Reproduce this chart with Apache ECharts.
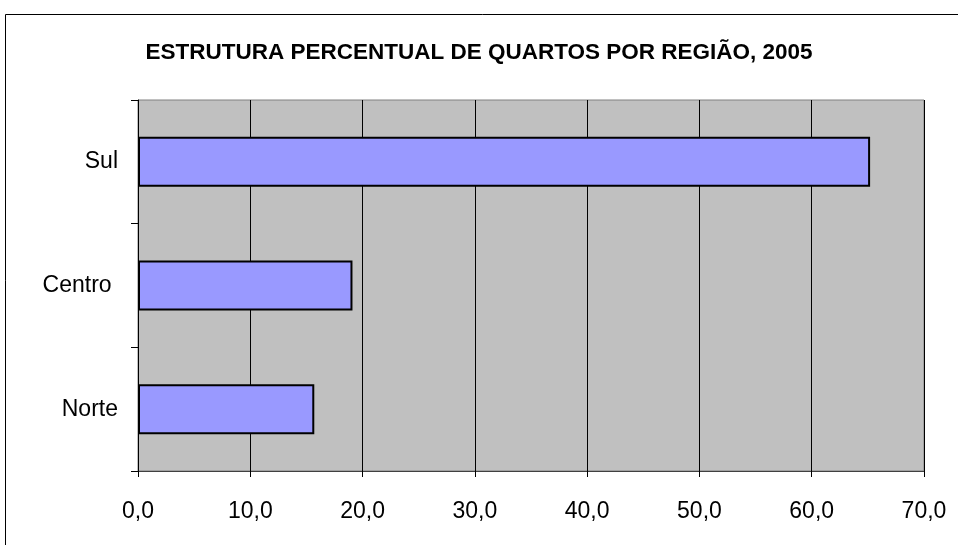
<!DOCTYPE html>
<html>
<head>
<meta charset="utf-8">
<script src="https://cdn.jsdelivr.net/npm/echarts@6/dist/echarts.min.js"></script>
<style>
  html, body { margin: 0; padding: 0; background: #fff; }
  #chart { width: 958px; height: 545px; }
</style>
</head>
<body>
<div id="chart"></div>
<script>
// regions, bottom to top as drawn
const regions = ['Norte', 'Centro ', 'Sul']
const shares = [15.7, 19.1, 65.2]
const xTicks = { min: 0, max: 70, step: 10 }

const chart = echarts.init(document.getElementById('chart'))

const option = {
  backgroundColor: '#fff',
  animation: false,
  textStyle: { fontFamily: 'Liberation Sans, Arial, sans-serif' },
  title: {
    text: 'ESTRUTURA PERCENTUAL DE QUARTOS POR REGIÃO, 2005',
    left: 'center',
    top: 36,
    textStyle: { fontSize: 22.5, fontWeight: 'bold', color: '#000' }
  },
  graphic: [{
    type: 'rect',
    shape: { x: 5.5, y: 14.5, width: 1000, height: 600 },
    style: { fill: 'none', stroke: '#000', lineWidth: 1 },
    z: -1
  }],
  grid: {
    left: 138, right: 34, top: 100, bottom: 74,
    show: true,
    backgroundColor: '#C0C0C0',
    borderColor: '#808080',
    borderWidth: 1
  },
  xAxis: {
    type: 'value',
    min: xTicks.min,
    max: xTicks.max,
    interval: xTicks.step,
    axisLine: { show: true, lineStyle: { color: '#404040', width: 1 } },
    axisTick: { show: true, length: 6, lineStyle: { color: '#000' } },
    splitLine: { show: true, lineStyle: { color: '#000', width: 1 } },
    axisLabel: {
      color: '#000', fontSize: 23, margin: 29,
      formatter: v => v.toFixed(1).replace('.', ',')
    }
  },
  yAxis: {
    type: 'category',
    data: regions,
    axisLine: { show: true, lineStyle: { color: '#000', width: 1 } },
    axisTick: { show: true, length: 7, lineStyle: { color: '#000' } },
    axisLabel: { color: '#000', fontSize: 23, margin: 20 }
  },
  series: [{
    type: 'bar',
    data: shares,
    barWidth: 50,
    itemStyle: { color: '#9999FF', borderColor: '#000', borderWidth: 2 }
  }]
}

chart.setOption(option)
</script>
</body>
</html>
